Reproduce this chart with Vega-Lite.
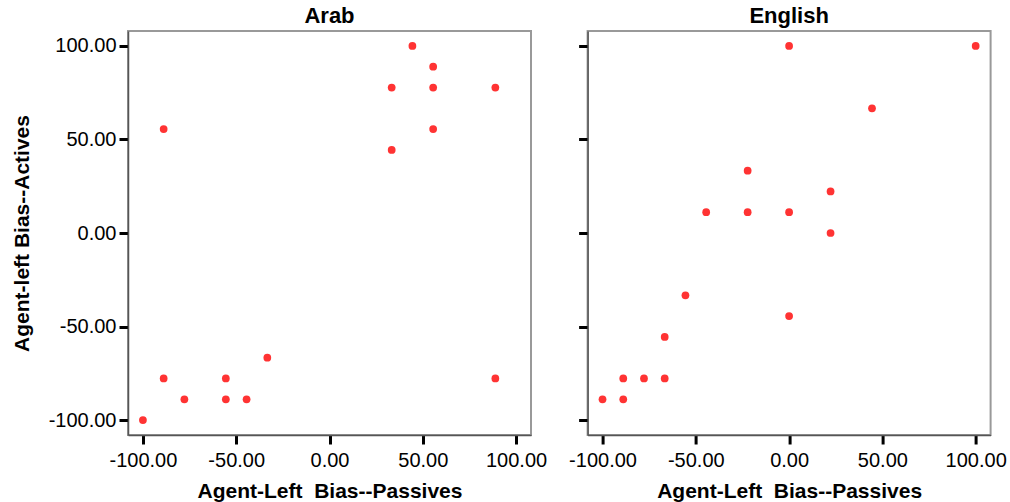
{
  "$schema": "https://vega.github.io/schema/vega-lite/v6.json",
  "background": "white",
  "padding": {"left": 10, "top": 4, "right": 5, "bottom": 5},
  "datasets": {
    "points": [
      {"group": "Arab", "passives": 44.44, "actives": 100},
      {"group": "Arab", "passives": 55.56, "actives": 88.89},
      {"group": "Arab", "passives": 33.33, "actives": 77.78},
      {"group": "Arab", "passives": 55.56, "actives": 77.78},
      {"group": "Arab", "passives": 88.89, "actives": 77.78},
      {"group": "Arab", "passives": -88.89, "actives": 55.56},
      {"group": "Arab", "passives": 55.56, "actives": 55.56},
      {"group": "Arab", "passives": 33.33, "actives": 44.44},
      {"group": "Arab", "passives": -33.33, "actives": -66.67},
      {"group": "Arab", "passives": -88.89, "actives": -77.78},
      {"group": "Arab", "passives": -55.56, "actives": -77.78},
      {"group": "Arab", "passives": 88.89, "actives": -77.78},
      {"group": "Arab", "passives": -77.78, "actives": -88.89},
      {"group": "Arab", "passives": -55.56, "actives": -88.89},
      {"group": "Arab", "passives": -44.44, "actives": -88.89},
      {"group": "Arab", "passives": -100, "actives": -100},
      {"group": "English", "passives": 0, "actives": 100},
      {"group": "English", "passives": 100, "actives": 100},
      {"group": "English", "passives": 44.44, "actives": 66.67},
      {"group": "English", "passives": -22.22, "actives": 33.33},
      {"group": "English", "passives": 22.22, "actives": 22.22},
      {"group": "English", "passives": -44.44, "actives": 11.11},
      {"group": "English", "passives": -22.22, "actives": 11.11},
      {"group": "English", "passives": 0, "actives": 11.11},
      {"group": "English", "passives": 22.22, "actives": 0},
      {"group": "English", "passives": -55.56, "actives": -33.33},
      {"group": "English", "passives": 0, "actives": -44.44},
      {"group": "English", "passives": -66.67, "actives": -55.56},
      {"group": "English", "passives": -88.89, "actives": -77.78},
      {"group": "English", "passives": -77.78, "actives": -77.78},
      {"group": "English", "passives": -66.67, "actives": -77.78},
      {"group": "English", "passives": -100, "actives": -88.89},
      {"group": "English", "passives": -88.89, "actives": -88.89}
    ]
  },
  "data": {"name": "points"},
  "spacing": 56.6,
  "bounds": "flush",
  "hconcat": [
    {
      "title": {"text": "Arab"},
      "width": 403,
      "height": 404,
      "transform": [{"filter": "datum.group === 'Arab'"}],
      "mark": {"type": "circle", "size": 60, "opacity": 1, "color": "#ff3333"},
      "encoding": {
        "x": {
          "field": "passives", "type": "quantitative",
          "scale": {"domain": [-108, 108], "nice": false, "zero": false},
          "axis": {"values": [-100, -50, 0, 50, 100], "format": ".2f", "labelExpr": "replace(datum.label, '\u2212', '-')", "title": "Agent-Left \u00a0Bias--Passives"}
        },
        "y": {
          "field": "actives", "type": "quantitative",
          "scale": {"domain": [-108, 108], "nice": false, "zero": false},
          "axis": {"values": [-100, -50, 0, 50, 100], "format": ".2f", "labelExpr": "replace(datum.label, '\u2212', '-')", "title": "Agent-left Bias--Actives"}
        }
      }
    },
    {
      "title": {"text": "English"},
      "width": 403,
      "height": 404,
      "transform": [{"filter": "datum.group === 'English'"}],
      "mark": {"type": "circle", "size": 60, "opacity": 1, "color": "#ff3333"},
      "encoding": {
        "x": {
          "field": "passives", "type": "quantitative",
          "scale": {"domain": [-108, 108], "nice": false, "zero": false},
          "axis": {"values": [-100, -50, 0, 50, 100], "format": ".2f", "labelExpr": "replace(datum.label, '\u2212', '-')", "title": "Agent-Left \u00a0Bias--Passives"}
        },
        "y": {
          "field": "actives", "type": "quantitative",
          "scale": {"domain": [-108, 108], "nice": false, "zero": false},
          "axis": {"values": [-100, -50, 0, 50, 100], "labels": false, "title": null}
        }
      }
    }
  ],
  "config": {
    "font": "Liberation Sans",
    "view": {"stroke": "#999999", "strokeWidth": 2},
    "axis": {
      "grid": false,
      "domainColor": "#555555",
      "domainWidth": 1.5,
      "tickColor": "black",
      "tickWidth": 3,
      "tickSize": 9,
      "labelFont": "Liberation Sans",
      "labelFontSize": 20,
      "labelColor": "black",
      "labelFlush": false,
      "titleFont": "Liberation Sans",
      "titleFontSize": 21,
      "titleFontWeight": "bold",
      "titleColor": "black"
    },
    "axisX": {"labelPadding": 6, "titlePadding": 10},
    "axisY": {"labelPadding": 3, "titlePadding": 16},
    "title": {"font": "Liberation Sans", "fontSize": 22, "fontWeight": "bold", "color": "black", "frame": "group", "offset": 3}
  }
}
